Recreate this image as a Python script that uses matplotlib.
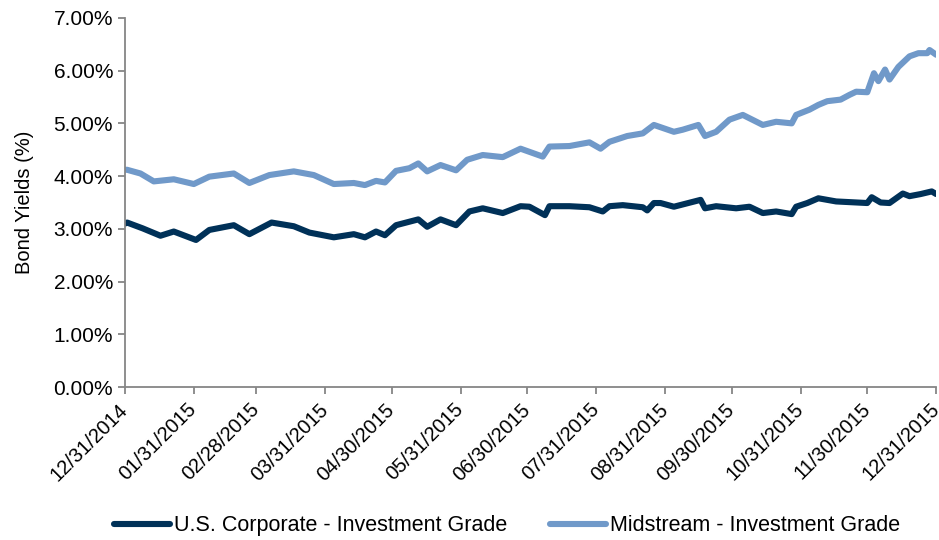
import matplotlib
matplotlib.use("Agg")
import matplotlib.pyplot as plt
import pandas as pd
from matplotlib.ticker import FuncFormatter

plt.rcParams['font.family'] = ['Liberation Sans', 'DejaVu Sans']

# U.S. Corporate - Investment Grade
corp_dates = ["2014-12-31", "2015-01-01", "2015-01-08", "2015-01-16", "2015-01-22", "2015-02-01",
              "2015-02-07", "2015-02-18", "2015-02-25", "2015-03-07", "2015-03-17", "2015-03-24",
              "2015-04-04", "2015-04-13", "2015-04-18", "2015-04-23", "2015-04-27", "2015-05-02",
              "2015-05-12", "2015-05-16", "2015-05-22", "2015-05-29", "2015-06-04", "2015-06-10",
              "2015-06-19", "2015-06-27", "2015-07-01", "2015-07-08", "2015-07-10", "2015-07-19",
              "2015-07-28", "2015-08-03", "2015-08-06", "2015-08-12", "2015-08-21", "2015-08-23",
              "2015-08-26", "2015-08-29", "2015-09-04", "2015-09-16", "2015-09-18", "2015-09-23",
              "2015-10-02", "2015-10-08", "2015-10-14", "2015-10-20", "2015-10-27", "2015-10-29",
              "2015-11-03", "2015-11-08", "2015-11-16", "2015-11-30", "2015-12-02", "2015-12-06",
              "2015-12-10", "2015-12-16", "2015-12-19", "2015-12-24", "2015-12-29", "2015-12-31"]
corp_yield = [3.10, 3.12, 3.01, 2.87, 2.95, 2.79,
              2.98, 3.07, 2.90, 3.12, 3.05, 2.93,
              2.84, 2.90, 2.84, 2.95, 2.88, 3.07,
              3.18, 3.04, 3.18, 3.07, 3.33, 3.39,
              3.30, 3.43, 3.42, 3.26, 3.43, 3.43,
              3.41, 3.33, 3.43, 3.45, 3.41, 3.35,
              3.49, 3.49, 3.42, 3.55, 3.39, 3.43,
              3.39, 3.42, 3.30, 3.33, 3.28, 3.42,
              3.49, 3.58, 3.52, 3.49, 3.60, 3.50,
              3.49, 3.67, 3.62, 3.66, 3.71, 3.66]

# Midstream - Investment Grade
mid_dates = ["2014-12-31", "2015-01-01", "2015-01-07", "2015-01-13", "2015-01-22", "2015-01-31",
             "2015-02-07", "2015-02-18", "2015-02-25", "2015-03-06", "2015-03-17", "2015-03-26",
             "2015-04-04", "2015-04-13", "2015-04-18", "2015-04-23", "2015-04-27", "2015-05-02",
             "2015-05-08", "2015-05-12", "2015-05-16", "2015-05-22", "2015-05-29", "2015-06-03",
             "2015-06-10", "2015-06-19", "2015-06-27", "2015-07-07", "2015-07-10", "2015-07-19",
             "2015-07-28", "2015-08-02", "2015-08-06", "2015-08-14", "2015-08-21", "2015-08-26",
             "2015-09-04", "2015-09-08", "2015-09-15", "2015-09-18", "2015-09-23", "2015-09-29",
             "2015-10-05", "2015-10-14", "2015-10-20", "2015-10-27", "2015-10-29", "2015-11-04",
             "2015-11-08", "2015-11-12", "2015-11-18", "2015-11-22", "2015-11-25", "2015-11-30",
             "2015-12-03", "2015-12-05", "2015-12-08", "2015-12-10", "2015-12-14", "2015-12-19",
             "2015-12-23", "2015-12-27", "2015-12-28", "2015-12-31"]
mid_yield = [4.12, 4.12, 4.05, 3.90, 3.94, 3.85,
             3.99, 4.05, 3.87, 4.02, 4.09, 4.02,
             3.85, 3.87, 3.83, 3.91, 3.88, 4.10,
             4.15, 4.24, 4.09, 4.21, 4.11, 4.31,
             4.40, 4.36, 4.52, 4.37, 4.56, 4.57,
             4.64, 4.52, 4.65, 4.76, 4.81, 4.97,
             4.84, 4.88, 4.97, 4.76, 4.84, 5.07,
             5.16, 4.97, 5.03, 5.00, 5.16, 5.26,
             5.35, 5.42, 5.45, 5.54, 5.60, 5.59,
             5.95, 5.80, 6.02, 5.83, 6.07, 6.27,
             6.33, 6.33, 6.39, 6.30]

tick_dates = ["2014-12-31", "2015-01-31", "2015-02-28", "2015-03-31", "2015-04-30", "2015-05-31",
              "2015-06-30", "2015-07-31", "2015-08-31", "2015-09-30", "2015-10-31", "2015-11-30",
              "2015-12-31"]

fig = plt.figure(figsize=(9.39, 5.40), dpi=100)
ax = fig.add_axes([0.133, 0.283, 0.864, 0.684])

ax.plot(pd.to_datetime(corp_dates), corp_yield, color="#003158", lw=4.4,
        label="U.S. Corporate - Investment Grade", solid_capstyle="round", solid_joinstyle="round")
ax.plot(pd.to_datetime(mid_dates), mid_yield, color="#7099C9", lw=4.4,
        label="Midstream - Investment Grade", solid_capstyle="round", solid_joinstyle="round")

ticks = pd.to_datetime(tick_dates)
ax.set_xlim(ticks[0], ticks[-1])
ax.set_xticks(ticks)
ax.set_xticklabels([d.strftime("%m/%d/%Y") for d in ticks], rotation=45,
                   ha="right", va="center", rotation_mode="anchor", fontsize=14.5)
ax.set_ylim(0, 7)
ax.set_yticks(range(0, 8))
ax.yaxis.set_major_formatter(FuncFormatter(lambda v, p: "%.2f%%" % v))
ax.set_ylabel("Bond Yields (%)", fontsize=14.5, labelpad=14)

for s in ["top", "right"]:
    ax.spines[s].set_visible(False)
for s in ["left", "bottom"]:
    ax.spines[s].set_color("#868686")
    ax.spines[s].set_linewidth(1.3)
ax.tick_params(axis="both", colors="#868686", labelcolor="black", labelsize=15,
               length=5, width=1.3, direction="out")
ax.tick_params(axis="x", pad=9, labelsize=14.5)

fig.legend(loc="center", bbox_to_anchor=(0.54, 0.026), ncol=2, frameon=False,
           fontsize=15.5, handlelength=2.6, handletextpad=0.2, columnspacing=2.0)

fig.savefig("out.png", dpi=100)
